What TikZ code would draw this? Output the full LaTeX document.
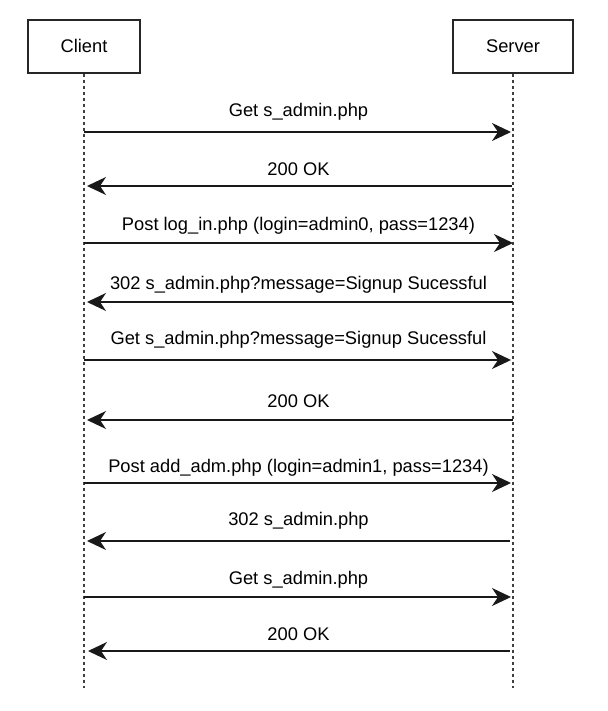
\documentclass[tikz,border=0pt]{standalone}
\usepackage{fontspec}
\setmainfont{Liberation Sans}
\usetikzlibrary{arrows.meta}
\begin{document}
\begin{tikzpicture}[x=1pt,y=-1pt,
  actor/.style={draw=black!85, line width=1.2pt, minimum height=53pt, inner sep=0pt, text height=13pt, text depth=0pt, font=\fontsize{18.3}{21}\selectfont},
  lifeline/.style={draw=black!75, line width=1.1pt, dash pattern=on 3pt off 3pt},
  msg/.style={draw=black!90, line width=1.3pt, -{Stealth[length=19pt,width=18pt,inset=6pt]}},
  lbl/.style={font=\fontsize{18.3}{21}\selectfont, inner sep=0pt, anchor=center}]
\useasboundingbox (0,0) rectangle (607,711);
\node[actor, minimum width=112pt] (client) at (84,46.5) {Client};
\node[actor, minimum width=120pt] (server) at (513,46.5) {Server};
\coordinate (cend) at (84,688);
\coordinate (send) at (513,688);
\draw[lifeline] (client.south) -- (cend);
\draw[lifeline] (server.south) -- (send);
\foreach \i/\y in {1/132,2/186,3/243,4/302,5/360,6/420,7/483,8/541,9/597,10/651}{
  \coordinate (c\i) at (84,\y);
  \coordinate (s\i) at (513,\y);
}
\draw[msg, shorten >=2pt] (c1) -- node[lbl, yshift=20pt]{Get s\_admin.php} (s1);
\draw[msg, shorten <=1pt, shorten >=3pt] (s2) -- node[lbl, yshift=17pt]{200 OK} (c2);
\draw[msg, shorten >=0pt] (c3) -- node[lbl, yshift=17pt]{Post log\_in.php (login=admin0, pass=1234)} (s3);
\draw[msg, shorten >=3pt] (s4) -- node[lbl, yshift=17pt]{302 s\_admin.php?message=Signup Sucessful} (c4);
\draw[msg, shorten >=2pt] (c5) -- node[lbl, yshift=20pt]{Get s\_admin.php?message=Signup Sucessful} (s5);
\draw[msg, shorten >=3pt] (s6) -- node[lbl, yshift=19pt]{200 OK} (c6);
\draw[msg, shorten >=2pt] (c7) -- node[lbl, yshift=15pt]{Post add\_adm.php (login=admin1, pass=1234)} (s7);
\draw[msg, shorten <=3pt, shorten >=3pt] (s8) -- node[lbl, yshift=20pt]{302 s\_admin.php} (c8);
\draw[msg, shorten >=2pt] (c9) -- node[lbl, yshift=17pt]{Get s\_admin.php} (s9);
\draw[msg, shorten <=3pt, shorten >=4pt] (s10) -- node[lbl, yshift=17pt]{200 OK} (c10);
\end{tikzpicture}
\end{document}
